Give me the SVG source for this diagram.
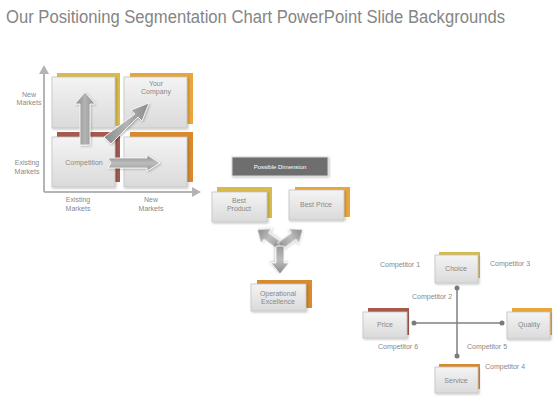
<svg xmlns="http://www.w3.org/2000/svg" width="560" height="420" viewBox="0 0 560 420">
<defs>
<linearGradient id="boxg" x1="0" y1="0" x2="0" y2="1">
<stop offset="0" stop-color="#f4f4f4"/><stop offset="1" stop-color="#dadada"/>
</linearGradient>
<linearGradient id="arrg" x1="0" y1="0" x2="1" y2="0">
<stop offset="0" stop-color="#8a8a8a"/><stop offset="0.5" stop-color="#b4b4b4"/><stop offset="1" stop-color="#8a8a8a"/>
</linearGradient>
<linearGradient id="arrgv" x1="0" y1="0" x2="0" y2="1">
<stop offset="0" stop-color="#8a8a8a"/><stop offset="0.5" stop-color="#bdbdbd"/><stop offset="1" stop-color="#9a9a9a"/>
</linearGradient>
<filter id="sh" x="-20%" y="-20%" width="150%" height="150%">
<feDropShadow dx="1" dy="1" stdDeviation="1" flood-color="#000" flood-opacity="0.25"/>
</filter>
<marker id="dot" viewBox="0 0 6 6" refX="3" refY="3" markerWidth="6" markerHeight="6" markerUnits="userSpaceOnUse">
<circle cx="3" cy="3" r="2.5" fill="#7a7a7a"/>
</marker>
<polygon id="tri-arrow" points="-4,0 4,0 4,-17 9,-17 0,-28 -9,-17 -4,-17"/>
</defs>
<style>
.title{font-family:"Liberation Sans",Arial,sans-serif;font-size:17.5px;fill:#858585}
.t{font-family:"Liberation Sans",Arial,sans-serif;font-size:7px;fill:#888888;text-anchor:middle}
.front{fill:url(#boxg);stroke:#c4c4c4;stroke-width:0.8;filter:url(#sh)}
.gold{fill:#d8bb4c}
.orange{fill:#e8a63c}
.dorange{fill:#d98a2e}
.red{fill:#a65a4e}
.axis{stroke:#b4b4b4;stroke-width:2;fill:none}
.conn{stroke:#808080;stroke-width:1.5;fill:none;marker-start:url(#dot);marker-end:url(#dot)}
.arr{stroke:#ffffff;stroke-width:0.8;filter:url(#sh)}
</style>
<text class="title" x="6" y="23" textLength="499" lengthAdjust="spacingAndGlyphs">Our Positioning Segmentation Chart PowerPoint Slide Backgrounds</text>

<g id="matrix">
<path class="axis" d="M44 192 V70 M44 192 H196"/>
<polygon points="44,65 39,74 49,74" fill="#b4b4b4"/>
<polygon points="201,192 192,187 192,197" fill="#b4b4b4"/>
<text class="t" x="29" y="97">New</text><text class="t" x="29" y="105">Markets</text>
<text class="t" x="27" y="165">Existing</text><text class="t" x="27" y="174">Markets</text>
<text class="t" x="78" y="202">Existing</text><text class="t" x="78" y="211">Markets</text>
<text class="t" x="151" y="202">New</text><text class="t" x="151" y="211">Markets</text>
</g>
<g id="box-tl"><rect class="gold" x="57" y="73" width="63" height="53"/><rect class="front" x="52" y="77" width="63" height="51"/></g>
<g id="box-tr"><rect class="orange" x="130" y="73" width="63" height="51"/><rect class="front" x="124" y="77" width="63" height="51"/>
<text class="t" x="156" y="86">Your</text><text class="t" x="156" y="94">Company</text></g>
<g id="box-bl"><rect class="red" x="57" y="132" width="63" height="50"/><rect class="front" x="52" y="137" width="63" height="50"/>
<text class="t" x="84" y="165">Competition</text></g>
<g id="box-br"><rect class="dorange" x="130" y="132" width="63" height="50"/><rect class="front" x="124" y="137" width="63" height="50"/></g>
<g id="matrix-arrows">
<polygon class="arr" fill="url(#arrg)" points="80,145 90,145 90,104 95,104 85,92 75,104 80,104"/>
<polygon class="arr" fill="url(#arrg)" points="104,137 111,144 138,117 142,121 149,103 131,110 135,114"/>
<polygon class="arr" fill="url(#arrgv)" points="108,158 147,158 147,155 160,163 147,171 147,168 108,168 111,163"/>
</g>

<g id="possible-dimension">
<rect x="232" y="157" width="96" height="19" fill="#6e6e6e" stroke="#d8d8d8" stroke-width="1" filter="url(#sh)"/>
<text x="280" y="169" font-family="Liberation Sans, Arial, sans-serif" font-size="6px" fill="#ffffff" text-anchor="middle">Possible Dimension</text>
</g>
<g id="best-product"><rect class="gold" x="217" y="187" width="55" height="31"/><rect class="front" x="212" y="192" width="55" height="30"/>
<text class="t" x="239" y="203">Best</text><text class="t" x="239" y="211">Product</text></g>
<g id="best-price"><rect class="orange" x="295" y="187" width="55" height="30"/><rect class="front" x="289" y="190" width="55" height="30"/>
<text class="t" x="316" y="207">Best Price</text></g>
<g id="operational-excellence"><rect class="dorange" x="257" y="280" width="55" height="28"/><rect class="front" x="251" y="284" width="55" height="27"/>
<text class="t" x="278" y="296">Operational</text><text class="t" x="278" y="304">Excellence</text></g>
<g id="three-way-arrows">
<use href="#tri-arrow" class="arr" fill="url(#arrgv)" transform="translate(280,246) rotate(-54)"/>
<use href="#tri-arrow" class="arr" fill="url(#arrgv)" transform="translate(280,246) rotate(54)"/>
<use href="#tri-arrow" class="arr" fill="url(#arrgv)" transform="translate(280,246) rotate(180)"/>
</g>

<g id="connectors">
<path class="conn" d="M457 288 V356"/>
<path class="conn" d="M414 323 H502"/>
</g>
<g id="choice"><rect class="gold" x="439" y="252" width="41" height="26"/><rect class="front" x="435" y="255" width="43" height="28"/>
<text class="t" x="456" y="271">Choice</text></g>
<g id="price"><rect class="red" x="368" y="308" width="41" height="27"/><rect class="front" x="363" y="312" width="44" height="26"/>
<text class="t" x="385" y="327">Price</text></g>
<g id="quality"><rect class="orange" x="512" y="308" width="40" height="27"/><rect class="front" x="507" y="312" width="43" height="27"/>
<text class="t" x="529" y="327">Quality</text></g>
<g id="service"><rect class="dorange" x="439" y="364" width="41" height="25"/><rect class="front" x="435" y="367" width="43" height="26"/>
<text class="t" x="456" y="383">Service</text></g>
<g id="competitor-labels">
<text class="t" x="400" y="267">Competitor  1</text>
<text class="t" x="510" y="266">Competitor  3</text>
<text class="t" x="432" y="299">Competitor  2</text>
<text class="t" x="398" y="349">Competitor  6</text>
<text class="t" x="487" y="349">Competitor  5</text>
<text class="t" x="505" y="369">Competitor  4</text>
</g>
</svg>
